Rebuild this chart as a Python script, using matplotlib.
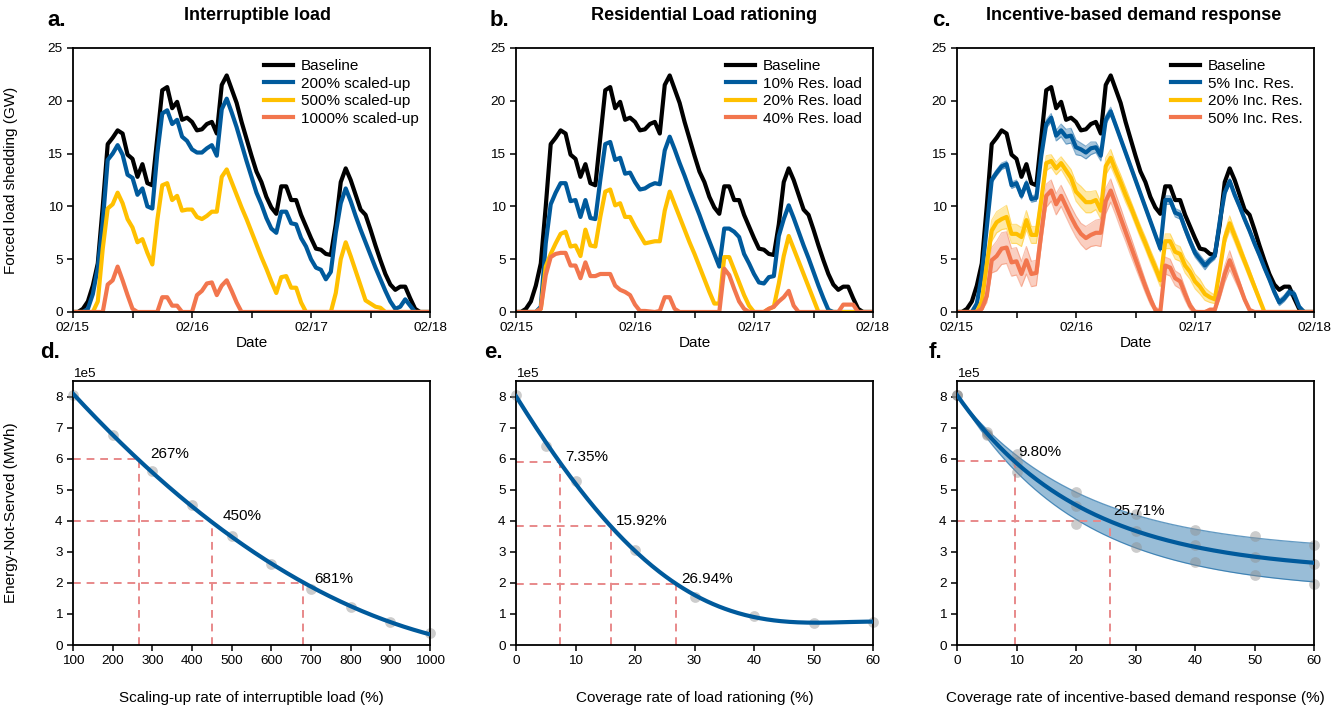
import numpy as np
import pandas as pd
import matplotlib
matplotlib.use("Agg")
import matplotlib.pyplot as plt
import matplotlib.dates as mdates

# ------------------------------------------------------------
# hourly forced load shedding (GW), 02/15 00:00 -> 02/18 00:00
# ------------------------------------------------------------
baseline = [0, 0, 0.3, 1.0, 2.5, 4.6, 10.0, 15.9, 16.5, 17.2,
            16.9, 14.9, 14.5, 12.8, 14.0, 12.2, 12.0, 16.5, 21.0, 21.3,
            19.3, 19.9, 18.2, 18.4, 18.0, 17.2, 17.3, 17.8, 18.0, 16.9,
            21.5, 22.4, 21.1, 19.8, 18.0, 16.4, 14.8, 13.3, 12.3, 10.9,
            9.9, 9.3, 11.9, 11.9, 10.6, 10.6, 9.2, 8.1, 7.0, 6.0,
            5.9, 5.5, 5.4, 8.3, 12.3, 13.6, 12.5, 11.1, 9.7, 9.2,
            7.8, 6.3, 4.9, 3.6, 2.6, 2.1, 2.4, 2.4, 1.3, 0.3,
            0, 0, 0]

# a. interruptible load
il_200 = [0, 0, 0, 0.3, 1.7, 4.2, 8.5, 14.4, 15.0, 15.8,
          14.9, 13.0, 12.7, 11.1, 11.7, 10.0, 9.8, 15.0, 18.8, 19.1,
          17.8, 18.2, 16.6, 16.2, 15.4, 15.1, 15.1, 15.5, 15.8, 14.8,
          19.2, 20.2, 18.9, 17.5, 15.9, 14.3, 12.8, 11.3, 10.2, 8.9,
          7.9, 7.5, 9.5, 9.5, 8.4, 8.3, 7.0, 6.2, 5.0, 4.2,
          4.0, 3.1, 3.8, 7.5, 10.3, 11.7, 10.5, 9.1, 7.8, 6.6,
          5.4, 4.2, 3.1, 2.0, 1.0, 0.3, 0.5, 1.2, 0.6, 0,
          0, 0, 0]
il_500 = [0, 0, 0, 0, 0, 1.0, 6.0, 9.8, 10.2, 11.3,
          10.3, 8.8, 8.0, 6.6, 6.9, 5.6, 4.5, 8.7, 12.0, 12.2,
          10.6, 11.0, 9.6, 9.7, 9.7, 9.0, 8.8, 9.1, 9.5, 9.5,
          12.8, 13.5, 12.3, 11.1, 9.9, 8.8, 7.6, 6.4, 5.2, 4.1,
          2.9, 1.8, 3.3, 3.4, 2.3, 2.3, 0.9, 0, 0, 0,
          0, 0, 0, 1.8, 5.0, 6.6, 5.3, 3.9, 2.5, 1.1,
          0.8, 0.5, 0.4, 0, 0, 0, 0, 0, 0, 0,
          0, 0, 0]
il_1000 = [0, 0, 0, 0, 0, 0, 0, 2.6, 3.0, 4.3,
           3.0, 1.6, 0.3, 0, 0, 0, 0, 0, 1.4, 1.4,
           0.6, 0.6, 0, 0, 0, 1.6, 2.0, 2.7, 2.8, 1.6,
           2.5, 3.0, 2.0, 0.9, 0, 0, 0, 0, 0, 0,
           0, 0, 0, 0, 0, 0, 0, 0, 0, 0,
           0, 0, 0, 0, 0, 0, 0, 0, 0, 0,
           0, 0, 0, 0, 0, 0, 0, 0, 0, 0,
           0, 0, 0]

# b. residential load rationing
rr_10 = [0, 0, 0, 0, 0, 0.5, 6.5, 10.2, 11.3, 12.2,
         12.2, 10.5, 10.6, 9.0, 10.6, 8.9, 8.8, 12.5, 15.9, 16.1,
         14.4, 14.6, 13.1, 13.2, 12.3, 11.6, 11.7, 12.0, 12.2, 12.1,
         15.3, 16.6, 15.4, 14.1, 12.9, 11.6, 10.4, 9.2, 7.9, 6.7,
         5.5, 4.3, 7.9, 7.9, 7.6, 7.1, 5.5, 4.6, 3.6, 2.8,
         2.7, 3.3, 3.4, 7.2, 8.8, 10.1, 8.9, 7.6, 6.3, 5.1,
         3.8, 2.5, 1.3, 0.2, 0, 0, 0, 0, 0, 0,
         0, 0, 0]
rr_20 = [0, 0, 0, 0, 0, 0.3, 4.3, 5.5, 6.5, 7.4,
         7.6, 6.2, 6.3, 5.3, 7.8, 6.3, 6.2, 9.0, 11.4, 11.6,
         10.1, 10.3, 9.0, 9.0, 8.1, 7.3, 6.5, 6.6, 6.7, 6.7,
         9.6, 11.4, 10.2, 9.0, 7.8, 6.6, 5.5, 4.3, 3.1, 1.9,
         0.8, 0.8, 5.2, 5.2, 4.0, 2.8, 1.6, 0.6, 0, 0,
         0, 0.3, 0.5, 2.7, 5.3, 7.2, 6.0, 4.8, 3.6, 2.4,
         1.2, 0, 0, 0, 0, 0, 0, 0, 0, 0,
         0, 0, 0]
rr_40 = [0, 0, 0, 0, 0, 0.3, 3.5, 5.2, 5.5, 5.6,
         5.6, 4.4, 4.4, 3.2, 4.7, 3.4, 3.4, 3.6, 3.6, 3.6,
         2.5, 2.1, 1.9, 1.6, 0.7, 0.1, 0.1, 0.05, 0, 0.1,
         1.4, 1.4, 0.3, 0, 0, 0, 0, 0, 0, 0,
         0, 0, 4.1, 3.5, 2.2, 1.0, 0.3, 0, 0, 0,
         0, 0.3, 0.5, 1.0, 1.4, 2.0, 0.6, 0, 0, 0,
         0, 0, 0, 0, 0, 0, 0.7, 0.7, 0.7, 0,
         0, 0, 0]

# c. incentive-based demand response (mean and half-width of the band)
ib_5 = [0, 0, 0, 0, 0.8, 3.5, 8.0, 12.5, 13.2, 13.8,
        14.0, 12.0, 12.2, 11.0, 12.2, 10.7, 10.8, 14.8, 17.8, 18.4,
        16.7, 17.2, 16.6, 16.7, 15.6, 15.4, 15.1, 15.5, 15.6, 14.8,
        18.2, 19.0, 17.7, 16.4, 15.1, 13.8, 12.5, 11.2, 9.9, 8.6,
        7.3, 6.0, 10.6, 10.6, 9.4, 9.2, 7.9, 6.7, 5.6, 5.0,
        4.4, 4.9, 5.3, 8.6, 11.3, 12.4, 11.1, 10.0, 8.8, 7.7,
        6.5, 5.4, 4.2, 3.1, 1.9, 0.9, 1.3, 1.9, 1.7, 0.5,
        0, 0, 0]
ib_20 = [0, 0, 0, 0, 0, 1.0, 4.5, 7.7, 8.5, 8.8,
         9.0, 7.4, 7.4, 7.1, 8.7, 7.3, 7.3, 10.6, 14.1, 14.3,
         13.6, 14.1, 13.4, 12.7, 11.4, 10.9, 10.4, 10.4, 10.6, 9.6,
         13.8, 14.6, 13.4, 12.3, 11.1, 10.0, 8.8, 7.6, 6.5, 5.3,
         4.2, 3.0, 6.7, 6.7, 5.7, 5.5, 4.4, 3.8, 2.9, 2.4,
         1.7, 1.4, 1.2, 4.0, 7.0, 8.4, 7.2, 6.0, 4.8, 3.6,
         2.4, 1.2, 0, 0, 0, 0, 0, 0, 0, 0,
         0, 0, 0]
ib_50 = [0, 0, 0, 0, 0, 0.3, 1.5, 4.9, 5.3, 6.0,
         6.1, 4.7, 4.8, 3.6, 4.9, 3.6, 3.7, 7.5, 11.0, 11.5,
         10.2, 11.0, 10.0, 9.0, 8.1, 7.4, 7.0, 7.3, 7.5, 7.5,
         10.5, 11.5, 10.2, 8.9, 7.6, 6.3, 5.0, 3.7, 2.4, 1.2,
         0.2, 0, 4.4, 4.2, 3.2, 2.9, 1.7, 0.6, 0, 0,
         0, 0.2, 0.2, 1.8, 3.6, 4.9, 3.7, 2.5, 1.2, 0.2,
         0, 0, 0, 0, 0, 0, 0, 0, 0, 0,
         0, 0, 0]
ib_5_band = [0, 0, 0, 0, 0.1, 0.2, 0.3, 0.3, 0.3, 0.3,
             0.3, 0.3, 0.3, 0.3, 0.3, 0.3, 0.3, 0.4, 0.4, 0.4,
             0.5, 0.6, 0.7, 0.7, 0.7, 0.6, 0.6, 0.6, 0.5, 0.5,
             0.4, 0.4, 0.3, 0.3, 0.3, 0.3, 0.3, 0.3, 0.3, 0.3,
             0.3, 0.3, 0.4, 0.4, 0.4, 0.4, 0.4, 0.4, 0.4, 0.4,
             0.4, 0.3, 0.3, 0.3, 0.3, 0.3, 0.3, 0.3, 0.3, 0.3,
             0.3, 0.3, 0.3, 0.3, 0.3, 0.3, 0.3, 0.3, 0.3, 0.2,
             0, 0, 0]
ib_20_band = [0, 0, 0, 0, 0, 0.3, 0.8, 1.0, 1.0, 1.0,
              1.1, 0.9, 0.9, 0.9, 0.9, 0.8, 0.8, 0.8, 0.7, 0.6,
              0.6, 0.6, 0.7, 0.8, 0.9, 1.0, 1.0, 1.0, 0.9, 0.8,
              0.8, 0.8, 0.7, 0.7, 0.7, 0.6, 0.6, 0.6, 0.6, 0.6,
              0.6, 0.6, 0.7, 0.7, 0.7, 0.7, 0.7, 0.7, 0.7, 0.7,
              0.6, 0.5, 0.4, 0.5, 0.6, 0.7, 0.6, 0.6, 0.5, 0.5,
              0.4, 0.3, 0, 0, 0, 0, 0, 0, 0, 0,
              0, 0, 0]
ib_50_band = [0, 0, 0, 0, 0, 0.2, 0.6, 1.2, 1.4, 1.5,
              1.5, 1.3, 1.3, 1.2, 1.3, 1.2, 1.2, 1.2, 1.1, 1.0,
              1.0, 1.0, 1.0, 1.0, 1.0, 1.0, 1.1, 1.1, 1.2, 1.3,
              1.2, 1.1, 1.0, 1.0, 0.9, 0.9, 0.8, 0.7, 0.6, 0.5,
              0.3, 0.2, 0.8, 0.8, 0.7, 0.7, 0.6, 0.4, 0.2, 0.1,
              0.1, 0.2, 0.2, 0.6, 0.8, 0.9, 0.7, 0.5, 0.3, 0.1,
              0, 0, 0, 0, 0, 0, 0, 0, 0, 0,
              0, 0, 0]

# ------------------------------------------------------------
# energy-not-served (MWh) vs. measure level
# ------------------------------------------------------------
d_rate = [100, 200, 300, 400, 500, 600, 700, 800, 900, 1000]
d_ens = [8.06e5, 6.75e5, 5.59e5, 4.52e5, 3.52e5, 2.61e5, 1.80e5, 1.21e5, 0.75e5, 0.38e5]
d_marks = [267, 450, 681]
d_levels = [6.0e5, 4.0e5, 2.0e5]
d_labels = ["267%", "450%", "681%"]

e_cov = [0, 5, 10, 20, 30, 40, 50, 60]
e_ens = [8.06e5, 6.40e5, 5.28e5, 3.07e5, 1.54e5, 0.93e5, 0.72e5, 0.75e5]
e_marks = [7.35, 15.92, 26.94]
e_levels = [5.88e5, 3.84e5, 1.98e5]
e_labels = ["7.35%", "15.92%", "26.94%"]

f_cov = [0, 5, 10, 20, 30, 40, 50, 60]
f_hi = [8.06e5, 6.86e5, 6.14e5, 4.92e5, 4.21e5, 3.71e5, 3.52e5, 3.21e5]
f_mid = [8.05e5, 6.80e5, 5.90e5, 4.46e5, 3.68e5, 3.21e5, 2.84e5, 2.62e5]
f_lo = [8.04e5, 6.75e5, 5.58e5, 3.90e5, 3.16e5, 2.66e5, 2.26e5, 1.97e5]
f_marks = [9.80, 25.71]
f_levels = [5.92e5, 4.0e5]
f_labels = ["9.80%", "25.71%"]

# ------------------------------------------------------------
# style
# ------------------------------------------------------------
plt.rcParams["font.family"] = ["Liberation Sans", "DejaVu Sans"]
plt.rcParams["axes.linewidth"] = 1.3
plt.rcParams["xtick.major.width"] = 1.1
plt.rcParams["ytick.major.width"] = 1.1
plt.rcParams["xtick.minor.width"] = 1.1
plt.rcParams["xtick.major.size"] = 4
plt.rcParams["ytick.major.size"] = 4
plt.rcParams["xtick.minor.size"] = 4
plt.rcParams["xtick.labelsize"] = 9.7
plt.rcParams["ytick.labelsize"] = 9.7

BLACK = "#000000"
BLUE = "#005A9C"
YELLOW = "#FFC000"
ORANGE = "#F2764E"
RED = "#E8898A"
GRAY = "#8F8F8F"
LW = 3.0

times = pd.date_range("2021-02-15", periods=len(baseline), freq="h")

fig = plt.figure(figsize=(13.43, 7.11), dpi=100)
fig.patch.set_facecolor("white")

W, H = 1343, 711
cols = [73, 516, 957]
axw = 357 / W
axh = 264 / H
top_y = 1 - 312 / H
bot_y = 1 - 645 / H


def time_axes(ax):
    ax.set_xlim(times[0], times[-1])
    ax.set_ylim(0, 25)
    ax.set_yticks([0, 5, 10, 15, 20, 25])
    ax.xaxis.set_major_locator(mdates.DayLocator())
    ax.xaxis.set_major_formatter(mdates.DateFormatter("%m/%d"))
    ax.xaxis.set_minor_locator(mdates.HourLocator(byhour=[12]))
    ax.set_xlabel("Date", fontsize=11, labelpad=1)


def add_legend(ax):
    ax.legend(loc="upper right", bbox_to_anchor=(1.0, 1.0), frameon=False,
              fontsize=11, handlelength=1.9, handletextpad=0.5,
              labelspacing=0.22, borderaxespad=0.35)


# ---------- a. ----------
ax_a = fig.add_axes([cols[0] / W, top_y, axw, axh])
for vals, col, lab in [(baseline, BLACK, "Baseline"),
                       (il_200, BLUE, "200% scaled-up"),
                       (il_500, YELLOW, "500% scaled-up"),
                       (il_1000, ORANGE, "1000% scaled-up")]:
    ax_a.plot(times, vals, color=col, lw=LW, label=lab)
time_axes(ax_a)
ax_a.set_ylabel("Forced load shedding (GW)", fontsize=11)
ax_a.yaxis.set_label_coords(-0.155, 0.5)
add_legend(ax_a)

# ---------- b. ----------
ax_b = fig.add_axes([cols[1] / W, top_y, axw, axh])
for vals, col, lab in [(baseline, BLACK, "Baseline"),
                       (rr_10, BLUE, "10% Res. load"),
                       (rr_20, YELLOW, "20% Res. load"),
                       (rr_40, ORANGE, "40% Res. load")]:
    ax_b.plot(times, vals, color=col, lw=LW, label=lab)
time_axes(ax_b)
add_legend(ax_b)

# ---------- c. ----------
ax_c = fig.add_axes([cols[2] / W, top_y, axw, axh])
ax_c.plot(times, baseline, color=BLACK, lw=LW, label="Baseline")
for vals, band, col, lab in [(ib_5, ib_5_band, BLUE, "5% Inc. Res."),
                             (ib_20, ib_20_band, YELLOW, "20% Inc. Res."),
                             (ib_50, ib_50_band, ORANGE, "50% Inc. Res.")]:
    v = np.array(vals)
    b = np.array(band)
    lo = np.clip(v - b, 0, None)
    hi = v + b
    ax_c.fill_between(times, lo, hi, color=col, alpha=0.35, lw=0)
    ax_c.plot(times, lo, color=col, lw=0.8, alpha=0.45)
    ax_c.plot(times, hi, color=col, lw=0.8, alpha=0.45)
    ax_c.plot(times, v, color=col, lw=LW, label=lab)
time_axes(ax_c)
add_legend(ax_c)


# ---------- bottom row ----------
def ens_axes(ax, xlim, xticks, xlabel):
    ax.set_xlim(*xlim)
    ax.set_xticks(xticks)
    ax.set_ylim(0, 8.5e5)
    ax.set_yticks(np.arange(0, 9) * 1e5)
    ax.ticklabel_format(axis="y", style="sci", scilimits=(0, 0))
    ax.yaxis.get_offset_text().set_fontsize(9.7)
    ax.set_xlabel(xlabel, fontsize=11, labelpad=17)


def guides(ax, x0, marks, levels, labels, dx, dy):
    for xm, yl, lab in zip(marks, levels, labels):
        ax.plot([x0, xm], [yl, yl], color=RED, lw=1.4, ls=(0, (4, 3)), zorder=1)
        ax.plot([xm, xm], [0, yl], color=RED, lw=1.4, ls=(0, (4, 3)), zorder=1)
        ax.text(xm + dx, yl + dy, lab, fontsize=11, ha="left", va="center", zorder=5)


def dots(ax, x, y):
    ax.scatter(x, y, s=60, color=GRAY, alpha=0.45, lw=0, zorder=2, clip_on=False)


# d.
ax_d = fig.add_axes([cols[0] / W, bot_y, axw, axh])
xs = np.linspace(100, 1000, 300)
fit_d = np.polyval(np.polyfit(d_rate, d_ens, 2), xs)
dots(ax_d, d_rate, d_ens)
ax_d.plot(xs, fit_d, color=BLUE, lw=LW, zorder=3)
guides(ax_d, 100, d_marks, d_levels, d_labels, 28, 0.14e5)
ens_axes(ax_d, (100, 1000), range(100, 1001, 100),
         "Scaling-up rate of interruptible load (%)")
ax_d.set_ylabel("Energy-Not-Served (MWh)", fontsize=11)
ax_d.yaxis.set_label_coords(-0.155, 0.5)

# e.
ax_e = fig.add_axes([cols[1] / W, bot_y, axw, axh])
xs = np.linspace(0, 60, 300)
fit_e = np.polyval(np.polyfit(e_cov, e_ens, 4), xs)
dots(ax_e, e_cov, e_ens)
ax_e.plot(xs, fit_e, color=BLUE, lw=LW, zorder=3)
guides(ax_e, 0, e_marks, e_levels, e_labels, 0.85, 0.16e5)
ens_axes(ax_e, (0, 60), range(0, 61, 10), "Coverage rate of load rationing (%)")


# f.  exponential-decay fit  y = c + a*exp(-k x)
def exp_fit(x, y, xs):
    x = np.asarray(x, float)
    y = np.asarray(y, float)
    best = None
    for k in np.linspace(0.005, 0.3, 600):
        A = np.column_stack([np.ones_like(x), np.exp(-k * x)])
        coef = np.linalg.lstsq(A, y, rcond=None)[0]
        err = np.sum((A @ coef - y) ** 2)
        if best is None or err < best[0]:
            best = (err, k, coef)
    _, k, coef = best
    return coef[0] + coef[1] * np.exp(-k * xs)


ax_f = fig.add_axes([cols[2] / W, bot_y, axw, axh])
xs = np.linspace(0, 60, 300)
f_up = exp_fit(f_cov, f_hi, xs)
f_md = exp_fit(f_cov, f_mid, xs)
f_dn = exp_fit(f_cov, f_lo, xs)
ax_f.fill_between(xs, f_dn, f_up, color=BLUE, alpha=0.4, lw=0, zorder=1)
ax_f.plot(xs, f_up, color=BLUE, lw=0.9, alpha=0.6, zorder=1)
ax_f.plot(xs, f_dn, color=BLUE, lw=0.9, alpha=0.6, zorder=1)
for arr in (f_hi, f_mid, f_lo):
    dots(ax_f, f_cov, arr)
ax_f.plot(xs, f_md, color=BLUE, lw=LW, zorder=3)
guides(ax_f, 0, f_marks, f_levels, f_labels, 0.57, 0.3e5)
ens_axes(ax_f, (0, 60), range(0, 61, 10),
         "Coverage rate of incentive-based demand response (%)")

# ---------- panel letters and titles ----------
for txt, x, y in [("a.", 47, 20), ("b.", 490, 20), ("c.", 932, 20),
                  ("d.", 40, 352), ("e.", 484, 352), ("f.", 929, 352)]:
    fig.text(x / W, 1 - y / H, txt, fontsize=16, fontweight="bold",
             ha="left", va="center")

for txt, x in [("Interruptible load", 258),
               ("Residential Load rationing", 704),
               ("Incentive-based demand response", 1134)]:
    fig.text(x / W, 1 - 16 / H, txt, fontsize=13, fontweight="bold",
             ha="center", va="center")

plt.savefig("out.png", dpi=100)
